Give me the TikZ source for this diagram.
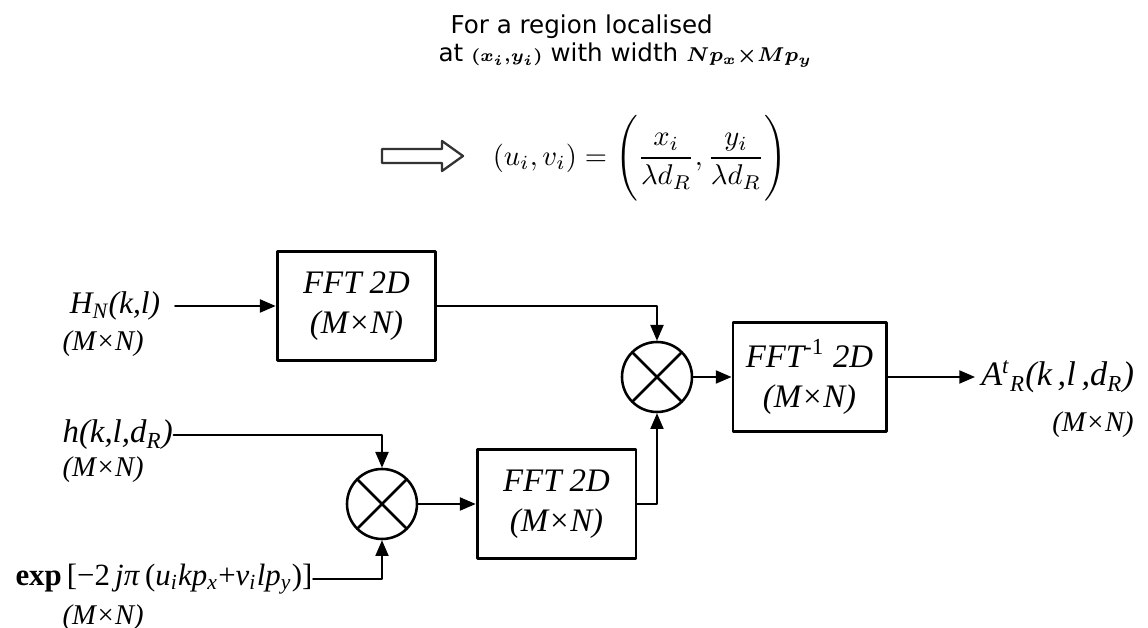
\documentclass[tikz,border=0pt]{standalone}
\usepackage{amsmath,amssymb}
\usepackage{fontspec}
\setmainfont{Liberation Serif}
\newfontfamily\notefont{DejaVu Sans}
\usetikzlibrary{arrows.meta,positioning}
\newcommand{\fftdim}{\textit{(M×N)}}
\tikzset{
  every picture/.append style={line cap=round,line join=round},
  fft block/.style={draw,line width=1pt,minimum width=55.6pt,minimum height=38.3pt,
    inner sep=0pt,align=center,font=\fontsize{11.5}{14}\selectfont\itshape},
  fft mult/.style={circle,draw,line width=0.9pt,minimum size=24.5pt,inner sep=0pt,
    path picture={\draw[line width=0.9pt]
      (path picture bounding box.north west) -- (path picture bounding box.south east)
      (path picture bounding box.north east) -- (path picture bounding box.south west);}},
  fft signal/.style={line width=0.55pt,-{Triangle[length=5.5pt,width=4.6pt]}},
  fft label/.style={font=\fontsize{11}{13}\selectfont\itshape,inner sep=0pt},
  fft dim/.style={font=\fontsize{10}{12}\selectfont,inner sep=0pt},
  fft note/.style={font=\notefont\fontsize{8.6}{10}\selectfont,inner sep=0pt}
}

\begin{document}
\begin{tikzpicture}[x=0.35pt,y=-0.35pt]
  \useasboundingbox (0,0) rectangle (1148,628);
  % header
  \node[fft note,anchor=west] (noteA) at (450,27) {For a region localised};
  \node[fft note,anchor=west] (noteB) at (438,55)
    {at {\fontsize{6}{7}\selectfont$\boldsymbol{(x_i{,}y_i)}$} with width
     {\fontsize{7}{8}\selectfont$\boldsymbol{Np_x{\times}Mp_y}$}};
  \draw[line width=0.8pt,black!80] (382,149) -- (442,149) -- (442,141) -- (463,156)
    -- (442,171) -- (442,163) -- (382,163) -- cycle;
  \node[inner sep=0pt,font=\fontsize{10}{12}\selectfont] (coord) at (640,158)
    {$(u_i,v_i)=\Biggl(\dfrac{x_i}{\lambda d_R},\dfrac{y_i}{\lambda d_R}\Biggr)$};
  % blocks
  \node[fft block] (fftA) at (356.5,306) {FFT 2D\\(M×N)};
  \node[fft block] (fftB) at (556.5,504) {FFT 2D\\(M×N)};
  \node[fft block,minimum width=53.6pt] (ifft) at (809.5,377)
    {FFT{\upshape\textsuperscript{-1}} 2D\\(M×N)};
  \node[fft mult] (mulA) at (657,377) {};
  \node[fft mult] (mulB) at (382,504) {};
  % signals
  \node[fft label,anchor=west,inner xsep=5pt] (inH) at (55,306) {H\textsubscript{N}(k,l)};
  \node[fft dim,anchor=west] (inHsize) at (62,344) {\fftdim};
  \node[fft label,font=\fontsize{11.5}{13}\selectfont\itshape,anchor=west] (inh) at (62,435)
    {h(k,l,d\textsubscript{R})};
  \node[fft dim,anchor=west] (inhsize) at (62,470) {\fftdim};
  \node[fft label,font=\fontsize{10.8}{13}\selectfont,anchor=east] (inexp) at (313,579)
    {\textbf{exp}\,[−2\,\textit{jπ}\,(\textit{u\textsubscript{i}kp\textsubscript{x}}+%
     \textit{v\textsubscript{i}lp\textsubscript{y}})]};
  \node[fft dim,anchor=west] (inexpsize) at (62,618) {\fftdim};
  \node[fft label,font=\fontsize{12}{14}\selectfont\itshape,anchor=west,inner xsep=2pt]
    (outA) at (975,377) {A\textsuperscript{t}\textsubscript{R}(k\,,l\,,d\textsubscript{R})};
  \node[fft dim] (outAsize) at (1093,425) {\fftdim};
  % connectors
  \draw[fft signal] (inH) -- (fftA);
  \draw[fft signal] (fftA.east) -| (mulA.north);
  \draw[fft signal] (inh.east) -| (mulB.north);
  \draw[fft signal] (inexp.east) -| (mulB.south);
  \draw[fft signal] (mulB) -- (fftB);
  \draw[fft signal] (fftB.east) -| (mulA.south);
  \draw[fft signal] (mulA) -- (ifft);
  \draw[fft signal] (ifft) -- (outA);
\end{tikzpicture}
\end{document}
